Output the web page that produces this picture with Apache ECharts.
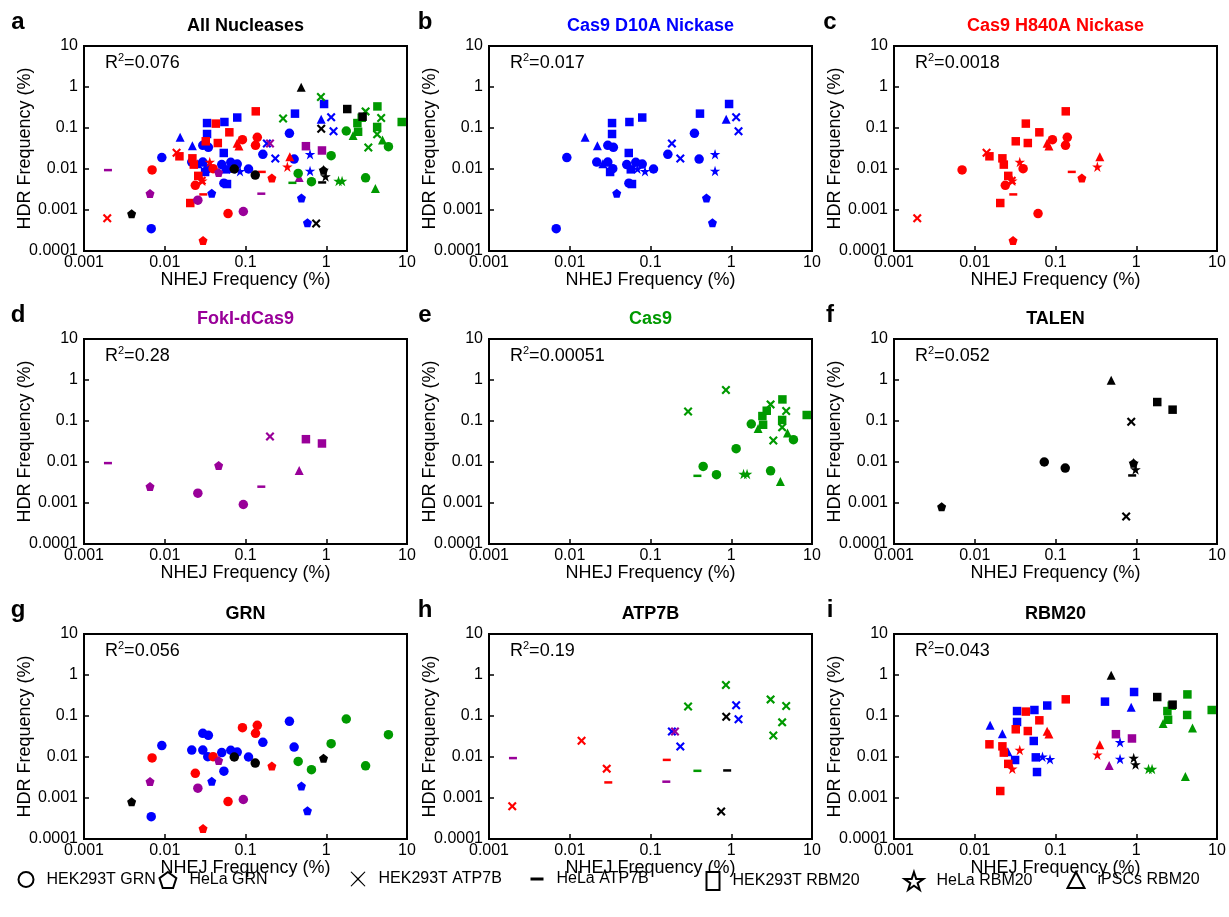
<!DOCTYPE html>
<html><head><meta charset="utf-8">
<script src="https://cdn.jsdelivr.net/npm/echarts@6/dist/echarts.min.js"></script>
<style>html,body{margin:0;padding:0;background:#fff}#c{width:1229px;height:917px}</style>
</head><body><div id="c"></div><script>
const FONT = '"Liberation Sans", Arial, Helvetica, sans-serif';

// Legend / marker categories (cell line + gene)
const siteNames = ['HEK293T GRN', 'HeLa GRN', 'HEK293T ATP7B', 'HeLa ATP7B', 'HEK293T RBM20', 'HeLa RBM20', 'iPSCs RBM20'];
const xTicks = [0.001, 0.01, 0.1, 1, 10];
const yTicks = [0.0001, 0.001, 0.01, 0.1, 1, 10];

// Rows: [site, NHEJ frequency (%), HDR frequency (%)]
const cas9D10A = [
  ['HEK293T GRN', 0.0092, 0.019], ['HEK293T GRN', 0.0068, 0.00035], ['HEK293T GRN', 0.0216, 0.0148],
  ['HEK293T GRN', 0.0296, 0.0378], ['HEK293T GRN', 0.0347, 0.0338], ['HEK293T GRN', 0.0296, 0.0148],
  ['HEK293T GRN', 0.0341, 0.0102], ['HEK293T GRN', 0.0508, 0.0128], ['HEK293T GRN', 0.0657, 0.0146],
  ['HEK293T GRN', 0.079, 0.0132], ['HEK293T GRN', 0.109, 0.0100], ['HEK293T GRN', 0.164, 0.0228],
  ['HEK293T GRN', 0.35, 0.0743], ['HEK293T GRN', 0.40, 0.0175], ['HEK293T GRN', 0.054, 0.0045],
  ['HeLa GRN', 0.0382, 0.00255], ['HeLa GRN', 0.493, 0.00196], ['HeLa GRN', 0.585, 0.00049],
  ['HEK293T ATP7B', 1.15, 0.182], ['HEK293T ATP7B', 1.23, 0.083], ['HEK293T ATP7B', 0.184, 0.042], ['HEK293T ATP7B', 0.234, 0.018],
  ['HEK293T RBM20', 0.94, 0.385], ['HEK293T RBM20', 0.41, 0.224], ['HEK293T RBM20', 0.079, 0.18],
  ['HEK293T RBM20', 0.0548, 0.14], ['HEK293T RBM20', 0.0334, 0.132], ['HEK293T RBM20', 0.0334, 0.0714],
  ['HEK293T RBM20', 0.0538, 0.0246], ['HEK293T RBM20', 0.0316, 0.00845], ['HEK293T RBM20', 0.057, 0.0098],
  ['HEK293T RBM20', 0.059, 0.0043],
  ['HeLa RBM20', 0.069, 0.0102], ['HeLa RBM20', 0.0855, 0.0088], ['HeLa RBM20', 0.63, 0.023], ['HeLa RBM20', 0.63, 0.0090],
  ['iPSCs RBM20', 0.0155, 0.0593], ['iPSCs RBM20', 0.022, 0.037], ['iPSCs RBM20', 0.865, 0.163], ['iPSCs RBM20', 0.0257, 0.0135]
];
const cas9H840A = [
  ['HEK293T GRN', 0.00697, 0.0095], ['HEK293T GRN', 0.0239, 0.0040], ['HEK293T GRN', 0.0397, 0.0102],
  ['HEK293T GRN', 0.0917, 0.052], ['HEK293T GRN', 0.140, 0.0593], ['HEK293T GRN', 0.133, 0.0378],
  ['HEK293T GRN', 0.0608, 0.00082],
  ['HeLa GRN', 0.212, 0.0060], ['HeLa GRN', 0.0298, 0.00018],
  ['HEK293T ATP7B', 0.00194, 0.00063], ['HEK293T ATP7B', 0.0140, 0.025], ['HEK293T ATP7B', 0.0287, 0.0052],
  ['HeLa ATP7B', 0.159, 0.0085], ['HeLa ATP7B', 0.030, 0.0024],
  ['HEK293T RBM20', 0.134, 0.255], ['HEK293T RBM20', 0.0429, 0.128], ['HEK293T RBM20', 0.0631, 0.0785],
  ['HEK293T RBM20', 0.0322, 0.0474], ['HEK293T RBM20', 0.0454, 0.043], ['HEK293T RBM20', 0.0152, 0.0204],
  ['HEK293T RBM20', 0.022, 0.0182], ['HEK293T RBM20', 0.0229, 0.0128], ['HEK293T RBM20', 0.026, 0.0068],
  ['HEK293T RBM20', 0.0207, 0.00148],
  ['HeLa RBM20', 0.0361, 0.0148], ['HeLa RBM20', 0.0292, 0.0052], ['HeLa RBM20', 0.33, 0.0114],
  ['iPSCs RBM20', 0.0787, 0.0423], ['iPSCs RBM20', 0.083, 0.0364], ['iPSCs RBM20', 0.354, 0.020]
];
const fokIdCas9 = [
  ['HEK293T GRN', 0.0257, 0.00174], ['HEK293T GRN', 0.094, 0.00092],
  ['HeLa GRN', 0.00657, 0.00253], ['HeLa GRN', 0.0465, 0.0082],
  ['HEK293T ATP7B', 0.201, 0.0419],
  ['HeLa ATP7B', 0.00198, 0.0094], ['HeLa ATP7B', 0.157, 0.0025],
  ['HEK293T RBM20', 0.56, 0.036], ['HEK293T RBM20', 0.885, 0.0283],
  ['iPSCs RBM20', 0.462, 0.0062]
];
const cas9 = [
  ['HEK293T GRN', 1.77, 0.0845], ['HEK293T GRN', 5.89, 0.035], ['HEK293T GRN', 1.15, 0.0211],
  ['HEK293T GRN', 0.449, 0.0078], ['HEK293T GRN', 0.656, 0.0049], ['HEK293T GRN', 3.07, 0.0061],
  ['HEK293T ATP7B', 0.292, 0.171], ['HEK293T ATP7B', 0.859, 0.57], ['HEK293T ATP7B', 3.07, 0.254],
  ['HEK293T ATP7B', 4.79, 0.175], ['HEK293T ATP7B', 4.27, 0.070], ['HEK293T ATP7B', 3.32, 0.0336],
  ['HeLa ATP7B', 0.381, 0.0046],
  ['HEK293T RBM20', 4.30, 0.336], ['HEK293T RBM20', 8.6, 0.140], ['HEK293T RBM20', 2.75, 0.178],
  ['HEK293T RBM20', 2.43, 0.132], ['HEK293T RBM20', 2.48, 0.081], ['HEK293T RBM20', 4.27, 0.106],
  ['HeLa RBM20', 1.42, 0.0051], ['HeLa RBM20', 1.57, 0.0051],
  ['iPSCs RBM20', 2.15, 0.066], ['iPSCs RBM20', 4.97, 0.051], ['iPSCs RBM20', 4.06, 0.00336]
];
const talen = [
  ['HEK293T GRN', 0.0726, 0.0100], ['HEK293T GRN', 0.132, 0.0071],
  ['HeLa GRN', 0.00389, 0.00081], ['HeLa GRN', 0.925, 0.0093],
  ['HEK293T ATP7B', 0.867, 0.096], ['HEK293T ATP7B', 0.75, 0.00047],
  ['HeLa ATP7B', 0.89, 0.0047],
  ['HEK293T RBM20', 1.82, 0.29], ['HEK293T RBM20', 2.82, 0.189],
  ['HeLa RBM20', 0.93, 0.0095], ['HeLa RBM20', 0.98, 0.0066],
  ['iPSCs RBM20', 0.489, 0.98]
];

const nucleaseNames = ['Cas9 D10A Nickase', 'Cas9 H840A Nickase', 'FokI-dCas9', 'Cas9', 'TALEN'];
const nucleaseData = [cas9D10A, cas9H840A, fokIdCas9, cas9, talen];
const nucleaseColors = ['#0000FF', '#FF0000', '#990099', '#009900', '#000000'];

const panelLetters = ['a', 'b', 'c', 'd', 'e', 'f', 'g', 'h', 'i'];
const panelTitles = ['All Nucleases', 'Cas9 D10A Nickase', 'Cas9 H840A Nickase', 'FokI-dCas9', 'Cas9', 'TALEN', 'GRN', 'ATP7B', 'RBM20'];
const panelTitleColors = ['#000000', '#0000FF', '#FF0000', '#990099', '#009900', '#000000', '#000000', '#000000', '#000000'];
const panelR2 = ['0.076', '0.017', '0.0018', '0.28', '0.00051', '0.052', '0.056', '0.19', '0.043'];
// which nucleases / sites each panel shows
const panelNucleases = [[0,1,2,3,4], [0], [1], [2], [3], [4], [0,1,2,3,4], [0,1,2,3,4], [0,1,2,3,4]];
const panelSites = [siteNames, siteNames, siteNames, siteNames, siteNames, siteNames,
  ['HEK293T GRN', 'HeLa GRN'], ['HEK293T ATP7B', 'HeLa ATP7B'], ['HEK293T RBM20', 'HeLa RBM20', 'iPSCs RBM20']];

// ---- layout / styles ----
const colLeft = [84, 489, 894];
const rowTop = [46, 339, 634];
const boxW = 323, boxH = 205;

// legend font: a narrow face when available (the original legend is condensed)
const legendFontInfo = (() => {
  const ctx = document.createElement('canvas').getContext('2d');
  ctx.font = '18px monospace';
  const w1 = ctx.measureText('HEK293T GRN').width;
  ctx.font = '18px "Liberation Sans Narrow", monospace';
  const w2 = ctx.measureText('HEK293T GRN').width;
  return Math.abs(w1 - w2) > 0.5 ? { family: '"Liberation Sans Narrow", ' + FONT, size: 18 } : { family: FONT, size: 16 };
})();

const P_PENT = 'path://M50,0 L97.55,34.55 L79.39,90.45 L20.61,90.45 L2.45,34.55 Z';
const P_STAR = 'path://M50,0 L61.23,34.55 L97.55,34.55 L68.16,55.9 L79.39,90.45 L50,69.1 L20.61,90.45 L31.84,55.9 L2.45,34.55 L38.77,34.55 Z';
const P_X = 'path://M0,17 L17,0 L50,33 L83,0 L100,17 L67,50 L100,83 L83,100 L50,67 L17,100 L0,83 L33,50 Z';
const P_XTHIN = 'path://M0,4 L6,0 L50,43 L94,0 L100,4 L56,50 L100,96 L94,100 L50,57 L6,100 L0,96 L44,50 Z';
const markerSymbol = {
  'HEK293T GRN': ['circle', 9.5], 'HeLa GRN': [P_PENT, 9], 'HEK293T ATP7B': [P_X, 9], 'HeLa ATP7B': ['rect', [8, 2.5]],
  'HEK293T RBM20': ['rect', 8.5], 'HeLa RBM20': [P_STAR, 10.5], 'iPSCs RBM20': ['triangle', 9]
};

const logFmt = v => { const e = Math.round(Math.log10(v)); return e < 0 ? Math.pow(10, e).toFixed(-e) : String(Math.round(Math.pow(10, e))); };

const grids = [], xAxes = [], yAxes = [], series = [], graphics = [];
for (let p = 0; p < 9; p++) {
  const r = Math.floor(p / 3), c = p % 3;
  const left = colLeft[c], top = rowTop[r];
  grids.push({ left, top, width: boxW, height: boxH, show: true, borderColor: '#000', borderWidth: 2, backgroundColor: 'transparent', containLabel: false });
  const axisCommon = {
    gridIndex: p, type: 'log', logBase: 10,
    axisLine: { show: true, onZero: false, lineStyle: { color: '#000', width: 2 } },
    axisTick: { show: true, inside: true, length: 5, lineStyle: { color: '#000', width: 1.5 } },
    splitLine: { show: false }, minorTick: { show: false },
    nameLocation: 'middle', nameMoveOverlap: false,
    nameTextStyle: { fontFamily: FONT, fontSize: 18, color: '#000' }
  };
  xAxes.push(Object.assign({}, axisCommon, {
    min: xTicks[0], max: xTicks[xTicks.length - 1], name: 'NHEJ Frequency (%)', nameGap: 20,
    axisLabel: { formatter: logFmt, fontFamily: FONT, fontSize: 16, color: '#000', margin: 4, showMinLabel: true, showMaxLabel: true }
  }));
  yAxes.push(Object.assign({}, axisCommon, {
    min: yTicks[0], max: yTicks[yTicks.length - 1], name: 'HDR Frequency (%)', nameGap: 50,
    axisLabel: { formatter: logFmt, fontFamily: FONT, fontSize: 16, color: '#000', margin: 6, showMinLabel: true, showMaxLabel: true }
  }));
  panelNucleases[p].forEach(n => {
    panelSites[p].forEach(site => {
      const pts = nucleaseData[n].filter(d => d[0] === site).map(d => [d[1], d[2]]);
      if (!pts.length) return;
      const [sym, size] = markerSymbol[site];
      series.push({
        type: 'scatter', name: site, xAxisIndex: p, yAxisIndex: p, data: pts,
        symbol: sym, symbolSize: size, symbolKeepAspect: false,
        itemStyle: { color: nucleaseColors[n], opacity: 1 },
        emphasis: { disabled: true }, silent: true, animation: false
      });
    });
  });
  // titles, letters, R²
  graphics.push({ type: 'text', style: { text: panelTitles[p], x: left + boxW / 2, y: top - 20, align: 'center', verticalAlign: 'middle', fill: panelTitleColors[p], font: 'bold 18px ' + FONT } });
  graphics.push({ type: 'text', style: { text: panelLetters[p], x: [18, 425, 830][c], y: top - 24, align: 'center', verticalAlign: 'middle', fill: '#000', font: 'bold 24px ' + FONT } });
  graphics.push({ type: 'text', style: {
    text: '{n|R}{s|2}{n|=' + panelR2[p] + '}', x: left + 21, y: top + 16, align: 'left', verticalAlign: 'middle',
    rich: { n: { fontFamily: FONT, fontSize: 18, color: '#000', lineHeight: 20, verticalAlign: 'bottom' },
            s: { fontFamily: FONT, fontSize: 11, color: '#000', lineHeight: 20, verticalAlign: 'top', padding: [0, 0, 8, 0] } }
  } });
}

// legend (one component per entry so positions match)
const legendLeft = [12.5, 153.5, 345.5, 525.5, 700.5, 898.5, 1061.5];
const legendIcons = [
  { icon: 'circle', w: 15, h: 15, style: { color: '#fff', borderColor: '#000', borderWidth: 2 } },
  { icon: P_PENT, w: 17, h: 16, style: { color: '#fff', borderColor: '#000', borderWidth: 2 } },
  { icon: P_XTHIN, w: 15, h: 17, style: { color: '#000', borderWidth: 0 } },
  { icon: 'rect', w: 13, h: 3, style: { color: '#000', borderWidth: 0 } },
  { icon: 'rect', w: 13, h: 18, style: { color: '#fff', borderColor: '#000', borderWidth: 2 } },
  { icon: P_STAR, w: 19, h: 18, style: { color: '#fff', borderColor: '#000', borderWidth: 2 } },
  { icon: 'triangle', w: 17, h: 16, style: { color: '#fff', borderColor: '#000', borderWidth: 2 } }
];
const legends = siteNames.map((s, i) => ({
  left: legendLeft[i], top: 866, orient: 'horizontal', selectedMode: false,
  itemWidth: legendIcons[i].w, itemHeight: legendIcons[i].h, itemGap: 0,
  textStyle: { fontFamily: legendFontInfo.family, fontSize: legendFontInfo.size, color: '#000', padding: [0, 0, 0, 8] },
  data: [{ name: s, icon: legendIcons[i].icon, itemStyle: legendIcons[i].style }]
}));

const chart = echarts.init(document.getElementById('c'), null, { renderer: 'canvas' });
chart.setOption({
  animation: false, backgroundColor: '#fff',
  grid: grids, xAxis: xAxes, yAxis: yAxes, series, legend: legends, graphic: graphics
});
</script></body></html>
